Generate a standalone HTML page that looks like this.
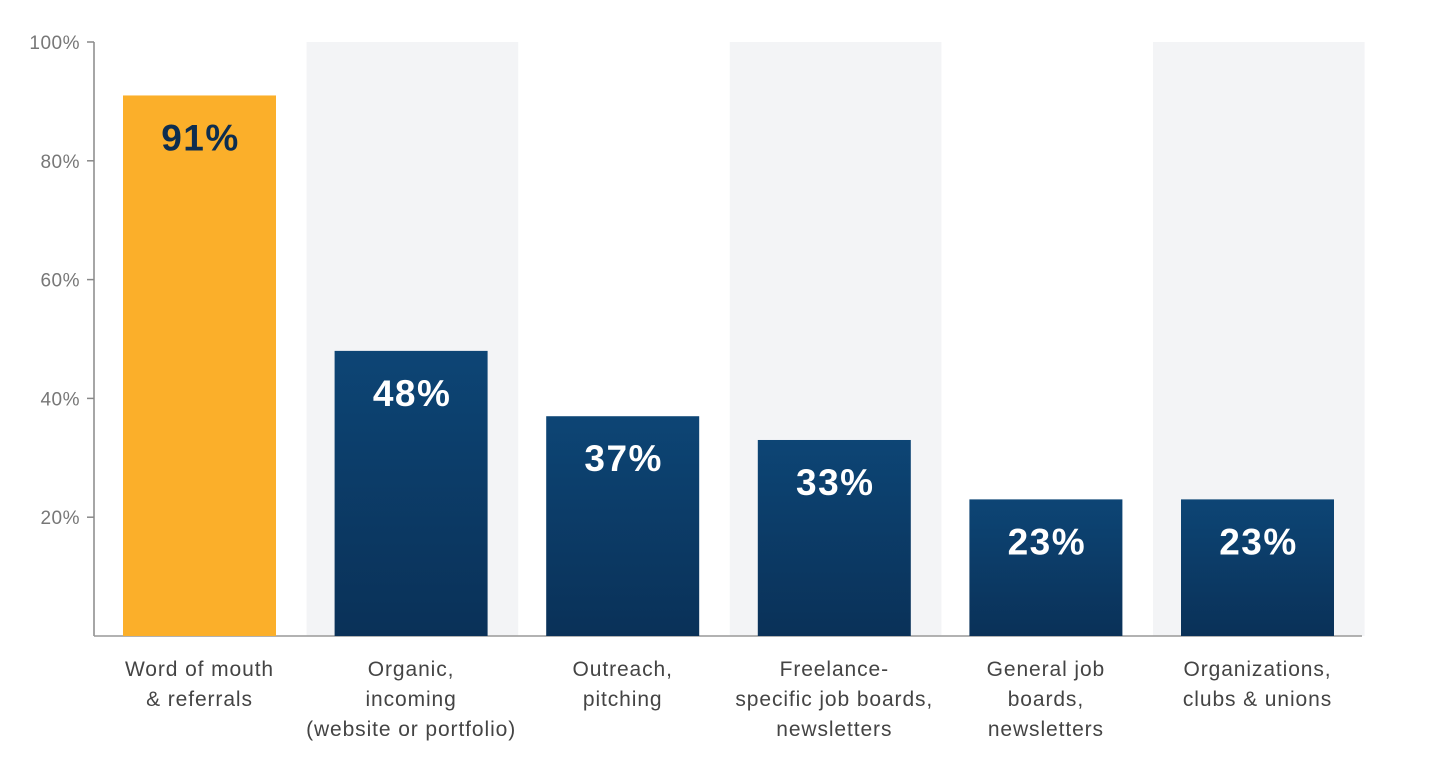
<!DOCTYPE html>
<html><head><meta charset="utf-8"><style>
html,body{margin:0;padding:0;background:#fff;}
svg{display:block;font-family:"Liberation Sans",sans-serif;}
</style></head><body>
<svg width="1434" height="761" viewBox="0 0 1434 761">
<defs>
<linearGradient id="blueGrad" x1="0" y1="0" x2="0" y2="1">
<stop offset="0" stop-color="#0d4575"/><stop offset="1" stop-color="#0a3158"/>
</linearGradient>
</defs>
<g id="bands"></g>
<g id="axis"></g>
<g id="bars"></g>
<g id="cats"></g>
</svg>
<script>
const categories = [
 ["Word of mouth","& referrals"],
 ["Organic,","incoming","(website or portfolio)"],
 ["Outreach,","pitching"],
 ["Freelance-","specific job boards,","newsletters"],
 ["General job","boards,","newsletters"],
 ["Organizations,","clubs & unions"]
];
const values = [91,48,37,33,23,23];
const valueLabels = ["91%","48%","37%","33%","23%","23%"];
const tickValues = [20,40,60,80,100];
const tickLabels = ["20%","40%","60%","80%","100%"];

const NS="http://www.w3.org/2000/svg";
const x0=95, bandW=211.6, y0=636, yTop=42;
function yScale(v){return y0-(v/100)*(y0-yTop);}
function xBand(i){return x0+bandW*i;}
function mk(tag,attrs,parent){const e=document.createElementNS(NS,tag);for(const k in attrs)e.setAttribute(k,attrs[k]);parent.appendChild(e);return e;}
const bands=document.getElementById('bands'),axis=document.getElementById('axis'),bars=document.getElementById('bars'),cats=document.getElementById('cats');

categories.forEach((c,i)=>{
 if(i%2===1){
  const r=mk('rect',{x:xBand(i),y:yTop,width:bandW,height:y0-yTop,fill:'#f3f4f6'},bands);
  
  
 }
});

const yl=mk('line',{x1:94,y1:yTop,x2:94,y2:y0,stroke:'#888','stroke-width':1.5},axis);


const xl=mk('line',{x1:94,y1:y0,x2:1362,y2:y0,stroke:'#999','stroke-width':1.5},axis);


tickValues.forEach((v,i)=>{
 const y=yScale(v);
 const t=mk('line',{x1:87,y1:y,x2:94,y2:y,stroke:'#888','stroke-width':1.5},axis);
 
 
 const tx=mk('text',{x:80,y:y+7,'text-anchor':'end','font-size':19,fill:'#777','letter-spacing':0.5},axis);
 tx.textContent=tickLabels[i];
 
 
});

values.forEach((v,i)=>{
 const bx=xBand(i)+28, bw=153, top=yScale(v);
 const r=mk('rect',{x:bx,y:top,width:bw,height:y0-top,fill:i===0?'#fbaf2a':'url(#blueGrad)'},bars);
 
 
 const t=mk('text',{x:bx+bw/2+1,y:top+55,'text-anchor':'middle','font-size':37,'font-weight':'bold',fill:i===0?'#0d2d4f':'#fff','letter-spacing':1.5},bars);
 t.textContent=valueLabels[i];
 
 
});

categories.forEach((lines,i)=>{
 const cx=xBand(i)+28+76.5;
 lines.forEach((ln,j)=>{
  const t=mk('text',{x:cx,y:676+30*j,'text-anchor':'middle','font-size':21,fill:'#444','letter-spacing':0.9},cats);
  t.textContent=ln;
  
  
 });
});
</script>
</body></html>
